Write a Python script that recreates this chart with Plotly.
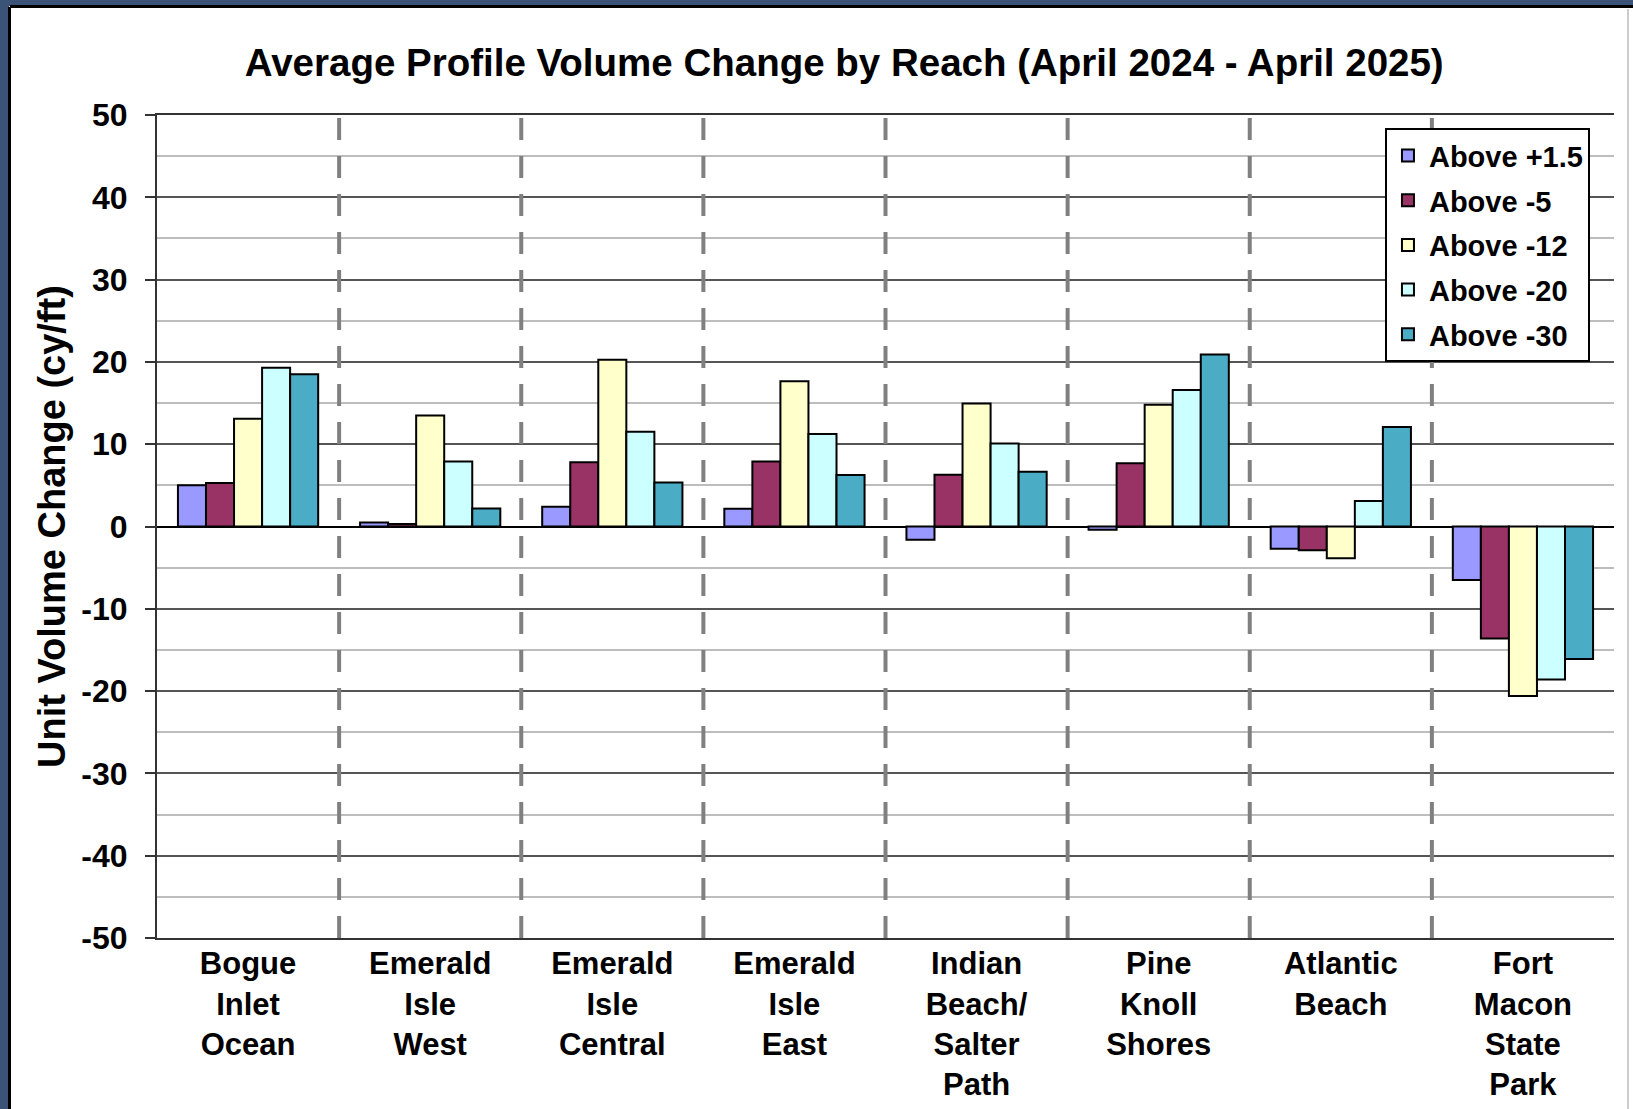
import plotly.graph_objects as go

reaches = ["Bogue<br>Inlet<br>Ocean", "Emerald<br>Isle<br>West", "Emerald<br>Isle<br>Central",
           "Emerald<br>Isle<br>East", "Indian<br>Beach/<br>Salter<br>Path", "Pine<br>Knoll<br>Shores",
           "Atlantic<br>Beach", "Fort<br>Macon<br>State<br>Park"]

above_p1_5 = [5.0, 0.5, 2.4, 2.15, -1.6, -0.4, -2.7, -6.5]
above_m5 = [5.3, 0.3, 7.8, 7.9, 6.3, 7.7, -2.9, -13.6]
above_m12 = [13.1, 13.5, 20.25, 17.65, 14.95, 14.8, -3.85, -20.6]
above_m20 = [19.3, 7.9, 11.5, 11.25, 10.1, 16.6, 3.1, -18.6]
above_m30 = [18.5, 2.2, 5.35, 6.25, 6.65, 20.9, 12.1, -16.1]

y_ticks = [-50, -40, -30, -20, -10, 0, 10, 20, 30, 40, 50]

series = [("Above +1.5", above_p1_5, "#9999FF"),
          ("Above -5", above_m5, "#993366"),
          ("Above -12", above_m12, "#FFFFCC"),
          ("Above -20", above_m20, "#CCFFFF"),
          ("Above -30", above_m30, "#4BACC6")]

FONT = "Liberation Sans, Arial, sans-serif"

fig = go.Figure()
for name, vals, col in series:
    fig.add_trace(go.Bar(x=reaches, y=vals, name=name, legendgroup=name,
                         marker=dict(color=col, line=dict(color="black", width=2))))

# dashed separators between reaches
for i in range(len(reaches) - 1):
    fig.add_shape(type="line", xref="x", yref="paper", x0=i + 0.5, x1=i + 0.5, y0=0, y1=1,
                  line=dict(color="#808080", width=4, dash="22px,16px"), layer="above")

fig.update_layout(
    width=1633, height=1109,
    paper_bgcolor="white", plot_bgcolor="white",
    margin=dict(l=157, r=19, t=115, b=171, autoexpand=False),
    barmode="group", bargap=0.23, bargroupgap=0,
    font=dict(family=FONT, color="black", weight="bold"),
    title=dict(text="Average Profile Volume Change by Reach (April 2024 - April 2025)",
               x=0.517, xanchor="center", y=0.944, yanchor="middle",
               font=dict(size=38.5, family=FONT, weight="bold")),
    legend=dict(x=0.9835, xanchor="right", y=0.984, yanchor="top",
                bgcolor="white", bordercolor="black", borderwidth=2,
                font=dict(size=29, family=FONT, weight="bold"),
                tracegroupgap=4, traceorder="grouped", itemwidth=32),
    showlegend=True,
)

fig.update_xaxes(showline=True, linecolor="#333", linewidth=2, mirror=True,
                 ticks="", tickfont=dict(size=31, family=FONT, weight="bold"),
                 ticklabelstandoff=-3,
                 showgrid=False, automargin=False)
fig.update_yaxes(range=[-50, 50], tickvals=y_ticks, ticktext=[str(v) for v in y_ticks],
                 showline=True, linecolor="#333", linewidth=2, automargin=False,
                 ticks="outside", ticklen=10, tickcolor="#333", tickwidth=1.5,
                 ticklabelstandoff=11,
                 tickfont=dict(size=32, family=FONT, weight="bold"),
                 showgrid=True, gridcolor="#555", gridwidth=1.5,
                 zeroline=True, zerolinecolor="black", zerolinewidth=1.5,
                 minor=dict(dtick=5, showgrid=True, gridcolor="#bdbdbd", gridwidth=1.5),
                 title=dict(text="Unit Volume Change (cy/ft)", standoff=4,
                            font=dict(size=38, family=FONT, weight="bold")))

# frame edges of the original screenshot
fig.add_shape(type="rect", xref="paper", yref="paper", x0=-157 / 1457, x1=-148 / 1457,
              y0=-171 / 823, y1=(823 + 115) / 823, fillcolor="#3c5378", line=dict(width=0), layer="below")
fig.add_shape(type="rect", xref="paper", yref="paper", x0=-157 / 1457, x1=(1457 + 19) / 1457,
              y0=(823 + 109) / 823, y1=(823 + 115) / 823, fillcolor="#3c5378", line=dict(width=0), layer="below")
fig.add_shape(type="line", xref="paper", yref="paper", x0=-147.5 / 1457, x1=-147.5 / 1457,
              y0=-171 / 823, y1=(823 + 108) / 823, line=dict(color="black", width=3), layer="below")
fig.add_shape(type="line", xref="paper", yref="paper", x0=-147 / 1457, x1=(1457 + 19) / 1457,
              y0=(823 + 108.5) / 823, y1=(823 + 108.5) / 823, line=dict(color="black", width=3), layer="below")
fig.add_shape(type="line", xref="paper", yref="paper", x0=(1457 + 14) / 1457, x1=(1457 + 14) / 1457,
              y0=-171 / 823, y1=(823 + 106) / 823, line=dict(color="#cccccc", width=2), layer="below")

fig.write_html("out.html", config={"displayModeBar": False},
               post_script="document.body.style.margin='0';")
